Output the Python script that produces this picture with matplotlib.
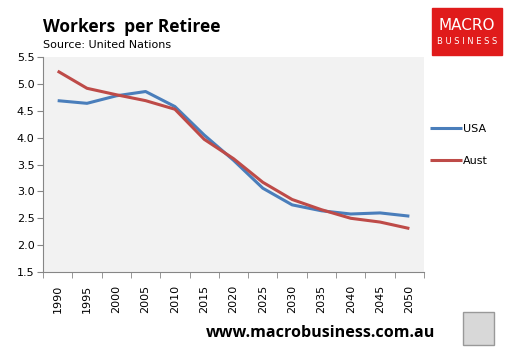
import matplotlib.pyplot as plt
import numpy as np
from matplotlib.patches import Rectangle

years = ['1990', '1995', '2000', '2005', '2010', '2015', '2020',
         '2025', '2030', '2035', '2040', '2045', '2050']
usa = [4.69, 4.64, 4.78, 4.86, 4.58, 4.05, 3.58, 3.06, 2.75, 2.64, 2.58, 2.60, 2.54]
aust = [5.24, 4.92, 4.80, 4.69, 4.53, 3.97, 3.61, 3.17, 2.85, 2.66, 2.50, 2.43, 2.31]

fig = plt.figure(figsize=(5.06, 3.54), dpi=100)
ax = fig.add_axes([0.085, 0.2316, 0.753, 0.607])
ax.set_facecolor('#f2f2f2')

x = np.arange(len(years))
ax.plot(x, usa, color='#4a7ebb', lw=2.2, label='USA', solid_capstyle='butt')
ax.plot(x, aust, color='#be4b48', lw=2.2, label='Aust', solid_capstyle='butt')

ax.set_xlim(-0.5, len(years) - 0.5)
ax.set_ylim(1.5, 5.5)
ax.set_yticks(np.arange(1.5, 5.51, 0.5))
ax.set_yticklabels(['%.1f' % v for v in np.arange(1.5, 5.51, 0.5)])
ax.set_xticks(x)
ax.set_xticklabels(years, rotation=90)
ax.set_xticks(np.arange(-0.5, len(years), 1), minor=True)
ax.tick_params(axis='x', which='major', length=0, pad=9, labelsize=8)
ax.tick_params(axis='x', which='minor', length=4, color='#868686', direction='out')
ax.tick_params(axis='y', length=4, color='#868686', labelsize=8, pad=2)

for s in ['top', 'right']:
    ax.spines[s].set_visible(False)
for s in ['left', 'bottom']:
    ax.spines[s].set_color('#868686')

ax.legend(loc='center left', bbox_to_anchor=(1.0, 0.59), frameon=False,
          fontsize=8, handlelength=2.9, handletextpad=0.1, labelspacing=2.0,
          borderaxespad=0.1)

fig.text(0.085, 0.925, 'Workers  per Retiree', fontsize=12.5, fontweight='bold',
         family='Open Sans', va='center')
fig.text(0.085, 0.873, 'Source: United Nations', fontsize=8, va='center')

# logo
fig.patches.append(Rectangle((432 / 506, 1 - 55 / 354), 70 / 506, 47 / 354,
                             transform=fig.transFigure, color='#e01b1b'))
fig.text(467 / 506, 1 - 25 / 354, 'MACRO', color='white', fontsize=11,
         ha='center', va='center', family='Liberation Sans Narrow')
fig.text(467 / 506, 1 - 42 / 354, 'B U S I N E S S', color='white', fontsize=6,
         ha='center', va='center', family='Liberation Sans Narrow')

fig.text(321 / 506, 1 - 333 / 354, 'www.macrobusiness.com.au', fontsize=11.6,
         fontweight='bold', ha='center', va='center', family='Open Sans')
fig.patches.append(Rectangle((463 / 506, 1 - 345 / 354), 31 / 506, 33 / 354,
                             transform=fig.transFigure, facecolor='#d8d8d8',
                             edgecolor='#999999', lw=1))

fig.savefig('out.png', dpi=100)
